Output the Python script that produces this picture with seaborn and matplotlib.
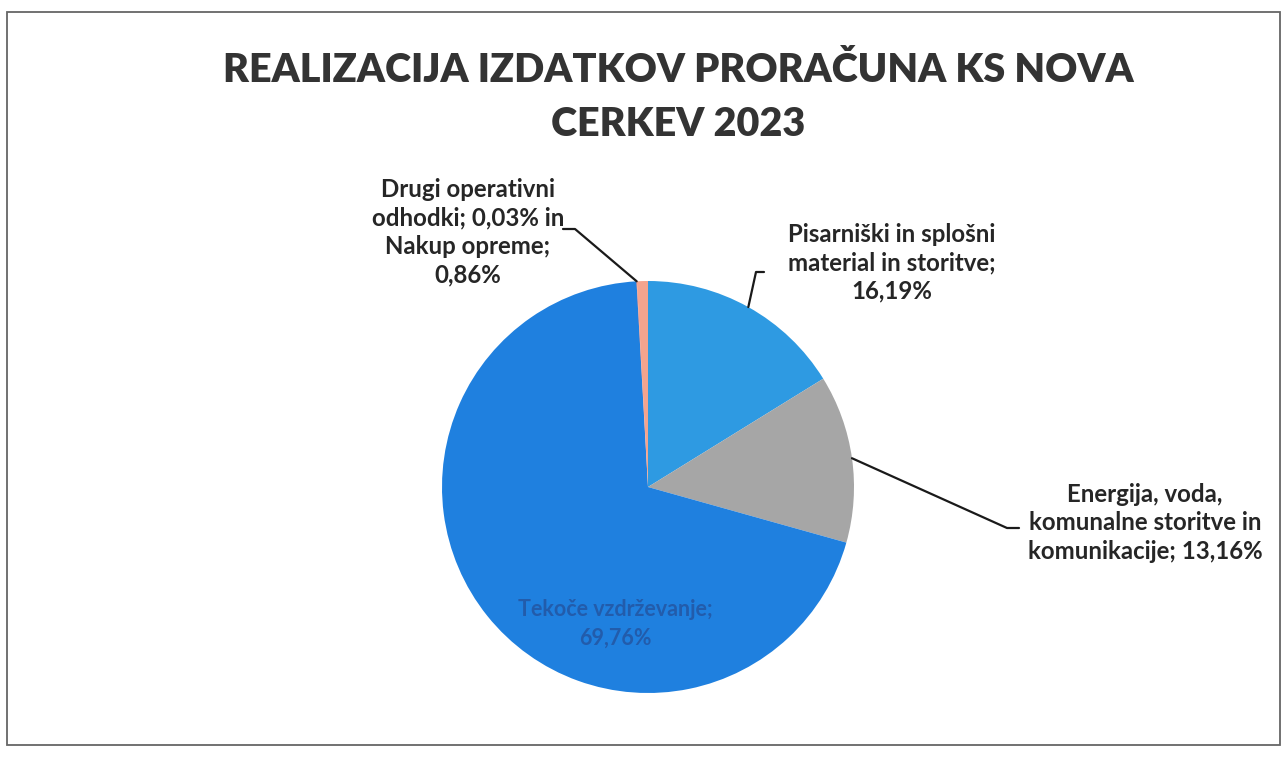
import numpy as np
import matplotlib
matplotlib.use("Agg")
import matplotlib.pyplot as plt
import seaborn as sns
from matplotlib.lines import Line2D
from matplotlib.patches import Rectangle

# data -----------------------------------------------------------------------
categories = ["Pisarniški in splošni material in storitve",
              "Energija, voda, komunalne storitve in komunikacije",
              "Tekoče vzdrževanje",
              "Drugi operativni odhodki",
              "Nakup opreme"]
values = [16.19, 13.16, 69.76, 0.03, 0.86]
colors = ["#2E9AE2", "#A6A6A6", "#1F80DF", "#D9534F", "#F4A48E"]
title_lines = ["REALIZACIJA IZDATKOV PRORAČUNA KS NOVA", "CERKEV 2023"]


def pct(v):
    return f"{v:.2f}".replace(".", ",") + "%"


label_pis = "Pisarniški in splošni\nmaterial in storitve;\n" + pct(values[0])
label_ene = "Energija, voda,\nkomunalne storitve in\nkomunikacije; " + pct(values[1])
label_tek = "Tekoče vzdrževanje;\n" + pct(values[2])
label_drn = ("Drugi operativni\nodhodki; " + pct(values[3]) + " in\nNakup opreme;\n"
             + pct(values[4]))

# plot -----------------------------------------------------------------------
sns.set_theme(style="white")
plt.rcParams['font.family'] = ['Lato', 'DejaVu Sans']

W, H = 1285, 758
fig = plt.figure(figsize=(W / 100, H / 100), dpi=100)
fig.patch.set_facecolor("white")

cx, cy, r = 648, H - 487, 206
ax = fig.add_axes([(cx - r) / W, (cy - r) / H, 2 * r / W, 2 * r / H])
wedges, _ = ax.pie(values, colors=colors, startangle=90, counterclock=False,
                   radius=1, wedgeprops=dict(linewidth=0, clip_on=False))
ax.set_xlim(-1, 1)
ax.set_ylim(-1, 1)
ax.set_aspect("equal")
ax.axis("off")

# label inside the big slice
ax.text(-0.16, -0.665, label_tek, ha="center", va="center", fontsize=15.5,
        color="#24509A", fontweight="bold", linespacing=1.45, alpha=0.75)


def px(x, y):
    # pixel (top-origin) -> figure fraction
    return x / W, (H - y) / H


def edge(w):
    a = np.deg2rad((w.theta1 + w.theta2) / 2)
    return cx + r * np.cos(a), H - (cy + r * np.sin(a))


def leader(w, elbow, end):
    ex, ey = edge(w)
    xs = [ex, elbow[0], end[0]]
    ys = [ey, elbow[1], end[1]]
    pts = [px(x, y) for x, y in zip(xs, ys)]
    fig.add_artist(Line2D([p[0] for p in pts], [p[1] for p in pts],
                          transform=fig.transFigure, color="#1a1a1a", lw=1.6))


lab_kw = dict(ha="center", va="center", fontsize=17.3, fontweight="bold",
              color="#262626", linespacing=1.28, multialignment="center")

fig.text(*px(468, 232), label_drn, **lab_kw)
fig.text(*px(892, 263), label_pis, **lab_kw)
fig.text(*px(1145, 523), label_ene, **lab_kw)

leader(wedges[3], (575, 229), (563, 229))
leader(wedges[0], (756, 272), (764, 272))
leader(wedges[1], (1007, 528), (1019, 528))

for y, line in zip([70, 125], title_lines):
    fig.text(*px(678, y), line, ha="center", va="center", fontsize=28.5,
             fontweight="heavy", color="#333333")

# scanned page frame
fig.add_artist(Rectangle(px(7, 745), 1273 / W, 733 / H, transform=fig.transFigure,
                         fill=False, edgecolor="#666666", lw=1.3))

fig.savefig("out.png", dpi=100)
